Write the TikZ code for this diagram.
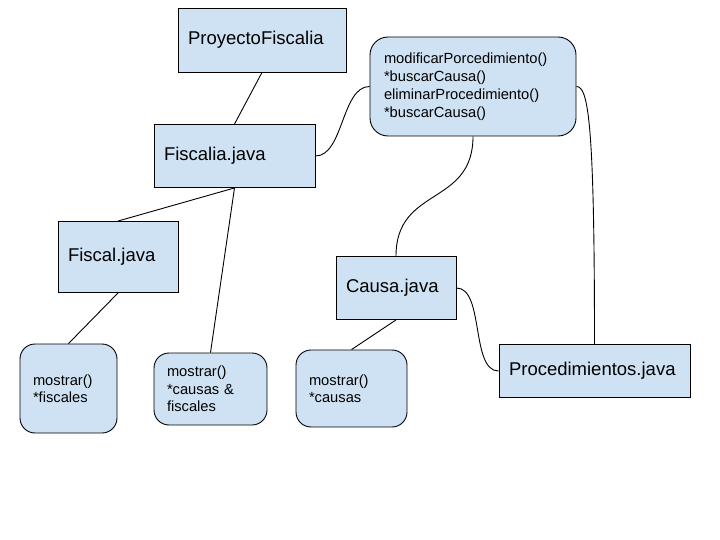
\documentclass[tikz,border=0pt]{standalone}
\usepackage{fontspec}
\setmainfont{Liberation Sans}
\definecolor{celeste}{HTML}{CFE2F3}

\begin{document}
\begin{tikzpicture}[x=1pt, y=-1pt, line width=0.9pt,
    clase/.style={
      draw, fill=celeste, align=left,
      inner xsep=10pt, inner ysep=0pt,
      font=\fontsize{18.5}{22}\selectfont,
    },
    metodo/.style={
      draw, fill=celeste, align=left, rounded corners=15pt,
      inner xsep=13pt, inner ysep=0pt,
      font=\fontsize{14.7}{17.5}\selectfont,
    },
  ]
    \useasboundingbox (0,0) rectangle (720,540);
    % clases
    \node[clase, text width=148pt, minimum height=64pt] (proy) at (262,40) {ProyectoFiscalia};
    \node[clase, text width=141pt, minimum height=63pt] (fisc) at (234.5,156) {Fiscalia.java};
    \node[clase, text width=100pt, minimum height=71pt] (fiscal) at (118,257) {Fiscal.java};
    \node[clase, text width=100pt, minimum height=63pt] (causa) at (396,288) {Causa.java};
    \node[clase, text width=171pt, minimum height=53pt] (proc) at (594.5,371) {Procedimientos.java};
    % metodos
    \node[
      metodo, rounded corners=18pt, inner xsep=14pt,
      text width=178pt, minimum height=99pt,
      font=\fontsize{14.7}{18}\selectfont
    ] (meth) at (473,86.5) {modificarPorcedimiento()\\{*}buscarCausa()\\eliminarProcedimiento()\\{*}buscarCausa()};
    \foreach \nom/\x/\y/\tw/\h/\txt in {
        mf/68.5/388.5/71/89/{mostrar()\\{*}fiscales},
        mcf/210.5/389/87/72/{mostrar()\\{*}causas \&\\fiscales},
        mc/351.5/388.5/85/77/{mostrar()\\{*}causas}%
    } {
        \node[metodo, text width=\tw pt, minimum height=\h pt] (\nom) at (\x,\y) {\txt};
    }
    % conexiones
    \draw (proy.south) -- (fisc.north);
    \draw (fisc.south) -- (fiscal.north);
    \draw (fisc.south) -- (mcf.north);
    \draw (fiscal.south) -- (mf.north);
    \draw (causa.south) -- (mc.north);
    \draw (fisc.east) .. controls +(28,0) and +(-28,0) .. (meth.west);
    \draw (meth.south) .. controls +(0,70) and +(0,-70) .. (causa.north);
    \draw (causa.east) .. controls +(28,0) and +(-28,0) .. (proc.west);
    \draw (meth.east) .. controls +(12,0) and +(0,-220) .. (proc.north);
\end{tikzpicture}
\end{document}
